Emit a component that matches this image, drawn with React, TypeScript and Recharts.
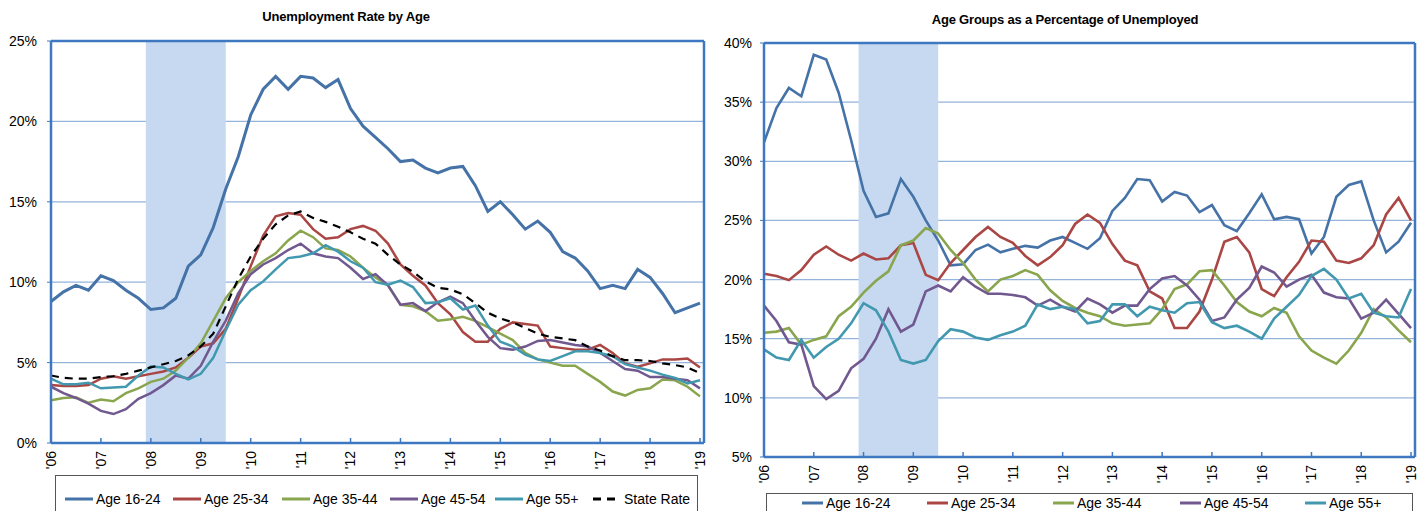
import React from 'react';
import { LineChart, Line, XAxis, YAxis, CartesianGrid, ReferenceArea, ReferenceLine } from 'recharts';

// quarterly sample points, in fractional years
const quarters = [
  2006.0, 2006.25, 2006.5, 2006.75, 2007.0, 2007.25, 2007.5, 2007.75,
  2008.0, 2008.25, 2008.5, 2008.75, 2009.0, 2009.25, 2009.5, 2009.75,
  2010.0, 2010.25, 2010.5, 2010.75, 2011.0, 2011.25, 2011.5, 2011.75,
  2012.0, 2012.25, 2012.5, 2012.75, 2013.0, 2013.25, 2013.5, 2013.75,
  2014.0, 2014.25, 2014.5, 2014.75, 2015.0, 2015.25, 2015.5, 2015.75,
  2016.0, 2016.25, 2016.5, 2016.75, 2017.0, 2017.25, 2017.5, 2017.75,
  2018.0, 2018.25, 2018.5, 2018.75, 2019.0,
];

// Unemployment rate by age (%)
const rate1624 = [
  8.8, 9.4, 9.8, 9.5, 10.4, 10.1, 9.5, 9.0, 8.3, 8.4, 9.0, 11.0, 11.7, 13.4, 15.8, 17.8,
  20.4, 22.0, 22.8, 22.0, 22.8, 22.7, 22.1, 22.6, 20.8, 19.7, 19.0, 18.3, 17.5, 17.6, 17.1, 16.8,
  17.1, 17.2, 16.0, 14.4, 15.0, 14.2, 13.3, 13.8, 13.1, 11.9, 11.5, 10.7, 9.6, 9.8, 9.6, 10.8,
  10.3, 9.3, 8.1, 8.4, 8.7,
];
const rate2534 = [
  3.6, 3.55, 3.55, 3.6, 4.0, 4.15, 4.0, 4.15, 4.3, 4.45, 4.7, 5.3, 6.0, 6.2, 7.1, 9.0,
  11.0, 12.9, 14.1, 14.3, 14.2, 13.3, 12.7, 12.8, 13.3, 13.5, 13.2, 12.4, 11.1, 10.4, 9.8, 8.7,
  8.0, 6.9, 6.3, 6.3, 7.1, 7.5, 7.4, 7.3, 6.0, 5.9, 5.8, 5.8, 6.1, 5.6, 4.95, 4.75,
  4.95, 5.2, 5.2, 5.25, 4.7,
];
const rate3544 = [
  2.65, 2.8, 2.85, 2.5, 2.7, 2.6, 3.1, 3.4, 3.8, 4.0, 4.5, 5.3, 6.2, 7.6, 9.0, 10.0,
  10.7, 11.3, 11.8, 12.6, 13.2, 12.8, 12.1, 12.0, 11.6, 10.9, 10.3, 9.8, 8.6, 8.5, 8.2, 7.6,
  7.7, 7.85, 7.6, 7.2, 6.8, 6.4, 5.6, 5.2, 5.0, 4.8, 4.8, 4.3, 3.8, 3.2, 2.95, 3.3,
  3.4, 3.95, 3.9, 3.5, 2.9,
];
const rate4554 = [
  3.5, 3.1, 2.8, 2.45, 2.0, 1.8, 2.1, 2.75, 3.1, 3.6, 4.2, 4.0, 4.8, 6.3, 7.6, 9.3,
  10.5, 11.1, 11.5, 12.0, 12.4, 11.8, 11.6, 11.5, 10.9, 10.2, 10.5, 9.8, 8.6, 8.7, 8.2, 8.75,
  9.1, 8.7, 7.6, 6.6, 5.9, 5.8, 6.0, 6.35, 6.4, 6.25, 6.1, 6.0, 5.6, 5.1, 4.6, 4.5,
  4.1, 4.1, 4.0, 3.9, 3.4,
];
const rate55 = [
  4.0, 3.65, 3.65, 3.75, 3.4, 3.45, 3.5, 4.2, 4.75, 4.7, 4.3, 3.95, 4.3, 5.3, 7.0, 8.6,
  9.5, 10.05, 10.8, 11.5, 11.6, 11.8, 12.3, 11.9, 11.3, 10.9, 10.0, 9.85, 10.1, 9.7, 8.7, 8.75,
  9.0, 8.3, 8.55, 7.3, 6.3, 6.0, 5.5, 5.2, 5.1, 5.4, 5.7, 5.7, 5.6, 5.4, 4.9, 4.7,
  4.5, 4.25, 4.05, 3.7, 3.9,
];
const stateRate = [
  4.2, 4.05, 4.0, 4.0, 4.1, 4.15, 4.3, 4.5, 4.7, 4.9, 5.1, 5.45, 6.0, 6.8, 8.5, 10.2,
  11.6, 12.7, 13.6, 14.15, 14.4, 14.0, 13.75, 13.45, 13.1, 12.7, 12.4, 11.7, 11.1, 10.65, 10.05, 9.65,
  9.55, 9.25, 8.7, 8.1, 7.75, 7.5, 7.15, 6.8, 6.6, 6.5, 6.4, 6.0, 5.75, 5.4, 5.15, 5.15,
  5.1, 4.95, 4.85, 4.7, 4.35,
];

// Age groups as a percentage of unemployed (%)
const share1624 = [
  31.6, 34.5, 36.2, 35.5, 39.0, 38.6, 35.8, 31.8, 27.5, 25.3, 25.6, 28.5, 27.0, 25.0, 23.3, 21.2,
  21.3, 22.5, 22.95, 22.3, 22.6, 22.85, 22.7, 23.3, 23.6, 23.1, 22.6, 23.5, 25.8, 26.9, 28.5, 28.4,
  26.6, 27.4, 27.1, 25.7, 26.3, 24.6, 24.1, 25.6, 27.2, 25.1, 25.3, 25.1, 22.2, 23.6, 27.0, 28.0,
  28.3, 25.0, 22.3, 23.2, 24.8,
];
const share2534 = [
  20.5, 20.3, 19.95, 20.8, 22.1, 22.8, 22.1, 21.6, 22.2, 21.7, 21.8, 22.9, 23.1, 20.4, 19.95, 21.4,
  22.5, 23.6, 24.45, 23.6, 23.1, 22.0, 21.2, 21.9, 22.9, 24.7, 25.5, 24.8, 23.0, 21.6, 21.2, 19.0,
  18.4, 15.9, 15.9, 17.3, 20.0, 23.2, 23.6, 22.3, 19.2, 18.6, 20.2, 21.5, 23.3, 23.2, 21.6, 21.4,
  21.8, 22.9, 25.5, 26.9, 25.0,
];
const share3544 = [
  15.5, 15.6, 15.9, 14.5, 14.9, 15.2, 16.9, 17.7, 18.9, 19.9, 20.7, 22.9, 23.3, 24.35, 23.9, 22.5,
  21.4, 20.0, 19.0, 20.0, 20.3, 20.8, 20.4, 19.1, 18.2, 17.6, 17.2, 16.9, 16.3, 16.1, 16.2, 16.3,
  17.5, 19.2, 19.6, 20.7, 20.8, 19.5, 18.1, 17.3, 16.9, 17.6, 17.2, 15.2, 14.0, 13.4, 12.9, 14.0,
  15.5, 17.5, 16.8, 15.7, 14.7,
];
const share4554 = [
  17.8, 16.5, 14.7, 14.5, 11.0, 9.9, 10.6, 12.5, 13.3, 15.0, 17.5, 15.6, 16.2, 19.0, 19.5, 19.0,
  20.2, 19.4, 18.8, 18.8, 18.7, 18.5, 17.8, 18.3, 17.7, 17.3, 18.4, 17.9, 17.2, 17.8, 17.8, 19.2,
  20.1, 20.3, 19.5, 18.3, 16.5, 16.8, 18.3, 19.3, 21.1, 20.6, 19.4, 20.0, 20.4, 18.9, 18.5, 18.4,
  16.7, 17.2, 18.3, 17.1, 15.9,
];
const share55 = [
  14.1, 13.4, 13.2, 14.9, 13.4, 14.3, 15.0, 16.3, 18.0, 17.4, 15.6, 13.2, 12.9, 13.2, 14.8, 15.8,
  15.6, 15.1, 14.9, 15.3, 15.6, 16.1, 17.9, 17.5, 17.7, 17.5, 16.3, 16.5, 17.9, 17.9, 16.9, 17.7,
  17.4, 17.2, 18.0, 18.1, 16.4, 15.9, 16.1, 15.6, 15.0, 16.7, 17.7, 18.7, 20.3, 20.9, 20.0, 18.4,
  18.8, 17.2, 16.9, 16.8, 19.2,
];

const yearTicks = [2006, 2007, 2008, 2009, 2010, 2011, 2012, 2013, 2014, 2015, 2016, 2017, 2018, 2019];
const yearLabels = ["'06", "'07", "'08", "'09", "'10", "'11", "'12", "'13", "'14", "'15", "'16", "'17", "'18", "'19"];
const rateTicks = [0, 5, 10, 15, 20, 25];
const shareTicks = [5, 10, 15, 20, 25, 30, 35, 40];
const recessionStart = 2007.9;
const recessionEnd = 2009.5;
const xMax = 2019.08;

const rateRows = quarters.map((t, i) => ({
  t, a: rate1624[i], b: rate2534[i], c: rate3544[i], d: rate4554[i], e: rate55[i], s: stateRate[i],
}));
const shareRows = quarters.map((t, i) => ({
  t, a: share1624[i], b: share2534[i], c: share3544[i], d: share4554[i], e: share55[i],
}));

const FONT = '"Liberation Sans", Arial, sans-serif';
const FRAME = '#3d78c0';
const GRID = '#94b4dc';
const SHADE = '#c6d9f1';

const series = [
  { key: 'a', name: 'Age 16-24', color: '#4572a7' },
  { key: 'b', name: 'Age 25-34', color: '#aa4643' },
  { key: 'c', name: 'Age 35-44', color: '#89a54e' },
  { key: 'd', name: 'Age 45-54', color: '#71588f' },
  { key: 'e', name: 'Age 55+', color: '#4198af' },
];

function YearTick({ x, y, payload }: any) {
  const label = yearLabels[yearTicks.indexOf(payload.value)];
  const ty = y + 8;
  return (
    <g>
      <line x1={x} x2={x} y1={y} y2={y - 5} stroke={FRAME} strokeWidth={1.5} />
      <text
        x={x}
        y={ty}
        transform={`rotate(-90 ${x} ${ty})`}
        textAnchor="end"
        dy="0.35em"
        fontSize={14}
        fontFamily={FONT}
        fill="#000"
      >
        {label}
      </text>
    </g>
  );
}

function Legend({ left, top, width, items, lineLen, textY }: any) {
  return (
    <svg
      style={{ position: 'absolute', left, top }}
      width={width}
      height={60}
    >
      <rect x={0.5} y={0.5} width={width - 1} height={70} fill="#fff" stroke="#555" strokeWidth={1} />
      {items.map((it: any) => (
        <g key={it.name}>
          <line
            x1={it.x}
            x2={it.x + lineLen}
            y1={textY - 5}
            y2={textY - 5}
            stroke={it.color}
            strokeWidth={3}
            strokeDasharray={it.dash}
          />
          <text x={it.x + lineLen + 3} y={textY} fontSize={14} fontFamily={FONT} fill="#000">
            {it.name}
          </text>
        </g>
      ))}
    </svg>
  );
}

const leftLegendX = [10, 118, 227, 335, 440, 538];
const rightLegendX = [36, 161, 287, 414, 539];

export default function App() {
  const leftItems = [
    ...series.map((s, i) => ({ name: s.name, color: s.color, x: leftLegendX[i] })),
    { name: 'State Rate', color: '#000', x: leftLegendX[5], dash: '8 6' },
  ];
  const rightItems = series.map((s, i) => ({ name: s.name, color: s.color, x: rightLegendX[i] }));

  return (
    <div
      style={{
        position: 'absolute', left: 0, top: 0, width: 1424, height: 511,
        overflow: 'hidden', background: '#fff', fontFamily: FONT,
      }}
    >
      <div
        style={{
          position: 'absolute', left: 246, top: 9, width: 200, textAlign: 'center',
          fontSize: 13, fontWeight: 'bold', letterSpacing: -0.2,
        }}
      >
        Unemployment Rate by Age
      </div>
      <div
        style={{
          position: 'absolute', left: 915, top: 12, width: 300, textAlign: 'center',
          fontSize: 13, fontWeight: 'bold', letterSpacing: -0.2,
        }}
      >
        Age Groups as a Percentage of Unemployed
      </div>

      <div style={{ position: 'absolute', left: 0, top: 0 }}>
        <LineChart width={720} height={511} data={rateRows} margin={{ top: 41, right: 16, bottom: 38, left: 0 }}>
          <CartesianGrid vertical={false} stroke={GRID} strokeWidth={1.3} />
          <ReferenceArea x1={recessionStart} x2={recessionEnd} y1={0} y2={25} fill={SHADE} fillOpacity={1} stroke="none" />
          <XAxis
            dataKey="t"
            type="number"
            domain={[2006, xMax]}
            ticks={yearTicks}
            interval={0}
            allowDataOverflow
            height={30}
            tickSize={0}
            tickMargin={0}
            tickLine={false}
            axisLine={{ stroke: FRAME, strokeWidth: 2.5 }}
            tick={<YearTick />}
          />
          <YAxis
            type="number"
            domain={[0, 25]}
            ticks={rateTicks}
            interval={0}
            width={51}
            tickSize={4}
            tickMargin={10}
            tickLine={{ stroke: FRAME }}
            axisLine={{ stroke: FRAME, strokeWidth: 2.5 }}
            tickFormatter={(v: number) => `${v}%`}
            tick={{ fill: '#000', fontSize: 14, fontFamily: FONT }}
          />
          <ReferenceLine y={25} stroke={FRAME} strokeWidth={2.5} />
          <ReferenceLine x={xMax} stroke={FRAME} strokeWidth={2.5} />
          {series.map((s) => (
            <Line
              key={s.key}
              type="linear"
              dataKey={s.key}
              stroke={s.color}
              strokeWidth={s.key === 'a' ? 3 : 2.5}
              dot={false}
              isAnimationActive={false}
            />
          ))}
          <Line
            type="linear"
            dataKey="s"
            stroke="#000"
            strokeWidth={2.2}
            strokeDasharray="8 6"
            dot={false}
            isAnimationActive={false}
          />
        </LineChart>
      </div>

      <div style={{ position: 'absolute', left: 712, top: 0 }}>
        <LineChart width={712} height={511} data={shareRows} margin={{ top: 43, right: 9, bottom: 24, left: 0 }}>
          <CartesianGrid vertical={false} stroke={GRID} strokeWidth={1.3} />
          <ReferenceArea x1={recessionStart} x2={recessionEnd} y1={5} y2={40} fill={SHADE} fillOpacity={1} stroke="none" />
          <XAxis
            dataKey="t"
            type="number"
            domain={[2006, xMax]}
            ticks={yearTicks}
            interval={0}
            allowDataOverflow
            height={30}
            tickSize={0}
            tickMargin={0}
            tickLine={false}
            axisLine={{ stroke: FRAME, strokeWidth: 2.5 }}
            tick={<YearTick />}
          />
          <YAxis
            type="number"
            domain={[5, 40]}
            ticks={shareTicks}
            interval={0}
            width={52}
            tickSize={4}
            tickMargin={8}
            tickLine={{ stroke: FRAME }}
            axisLine={{ stroke: FRAME, strokeWidth: 2.5 }}
            tickFormatter={(v: number) => `${v}%`}
            tick={{ fill: '#000', fontSize: 14, fontFamily: FONT }}
          />
          <ReferenceLine y={40} stroke={FRAME} strokeWidth={2.5} />
          <ReferenceLine x={xMax} stroke={FRAME} strokeWidth={2.5} />
          {series.map((s) => (
            <Line
              key={s.key}
              type="linear"
              dataKey={s.key}
              stroke={s.color}
              strokeWidth={2.6}
              dot={false}
              isAnimationActive={false}
            />
          ))}
        </LineChart>
      </div>

      <Legend left={55} top={475} width={643} items={leftItems} lineLen={28} textY={29} />
      <Legend left={766} top={493} width={647} items={rightItems} lineLen={21} textY={15} />
    </div>
  );
}
